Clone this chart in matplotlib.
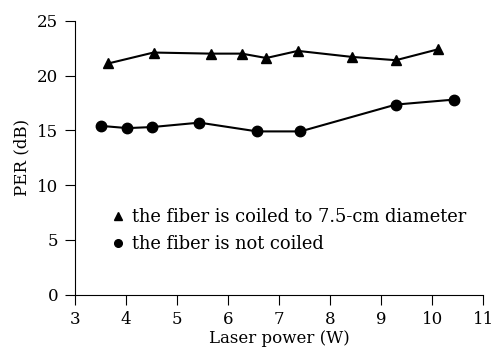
import matplotlib.pyplot as plt
from matplotlib.lines import Line2D

# data
coiled_power = [3.65, 4.54, 5.66, 6.27, 6.75, 7.37, 8.43, 9.29, 10.12]
coiled_per = [21.1, 22.1, 22.0, 22.0, 21.6, 22.25, 21.7, 21.4, 22.4]
straight_power = [3.52, 4.03, 4.52, 5.44, 6.57, 7.42, 9.29, 10.42]
straight_per = [15.4, 15.2, 15.3, 15.7, 14.9, 14.9, 17.35, 17.8]

plt.rcParams['font.family'] = ['DejaVu Serif']

fig = plt.figure(figsize=(4.93, 3.52), dpi=100)
ax = fig.add_axes([0.152, 0.163, 0.828, 0.778])

ax.plot(coiled_power, coiled_per, '-^', color='black', lw=1.5, ms=7.5)
ax.plot(straight_power, straight_per, '-o', color='black', lw=1.5, ms=7.5)

ax.set_xlim(3, 11)
ax.set_ylim(0, 25)
ax.set_xticks(range(3, 12))
ax.set_yticks(range(0, 26, 5))
ax.spines['top'].set_visible(False)
ax.spines['right'].set_visible(False)
ax.tick_params(direction='out', length=7, pad=5, labelsize=12)
ax.set_xlabel('Laser power (W)', fontsize=12, labelpad=1)
ax.set_ylabel('PER (dB)', fontsize=12, labelpad=5)

handles = [Line2D([], [], marker='^', color='black', ls='none', ms=5.5),
           Line2D([], [], marker='o', color='black', ls='none', ms=5.5)]
labels = ['the fiber is coiled to 7.5-cm diameter', 'the fiber is not coiled']
ax.legend(handles, labels, loc='upper left', bbox_to_anchor=(0.045, 0.375),
          frameon=False, fontsize=12.9, handletextpad=0.25, handlelength=1,
          labelspacing=0.5)

fig.savefig('out.png', dpi=100)
